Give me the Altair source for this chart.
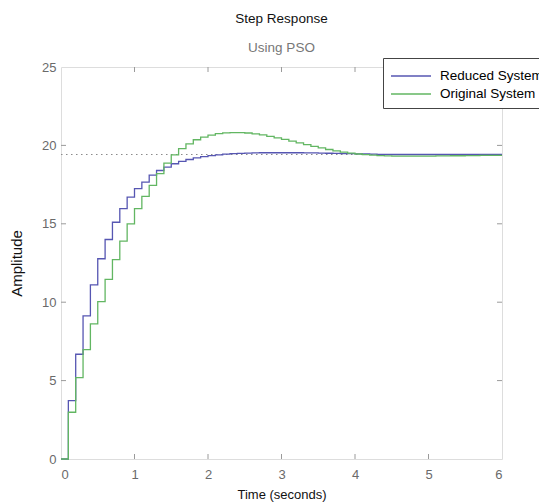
import altair as alt
import pandas as pd

# ---------------- data ----------------
time = [0.0, 0.1, 0.2, 0.3, 0.4, 0.5, 0.6, 0.7, 0.8, 0.9,
        1.0, 1.1, 1.2, 1.3, 1.4, 1.5, 1.6, 1.7, 1.8, 1.9,
        2.0, 2.1, 2.2, 2.3, 2.4, 2.5, 2.6, 2.7, 2.8, 2.9,
        3.0, 3.1, 3.2, 3.3, 3.4, 3.5, 3.6, 3.7, 3.8, 3.9,
        4.0, 4.1, 4.2, 4.3, 4.4, 4.5, 4.6, 4.7, 4.8, 4.9,
        5.0, 5.1, 5.2, 5.3, 5.4, 5.5, 5.6, 5.7, 5.8, 5.9, 6.0]

reduced = [0.0, 3.72, 6.68, 9.13, 11.10, 12.77, 14.00, 15.10, 15.97, 16.70,
           17.24, 17.66, 18.10, 18.40, 18.62, 18.83, 18.98, 19.10, 19.20, 19.28,
           19.35, 19.40, 19.44, 19.47, 19.49, 19.51, 19.52, 19.53, 19.53, 19.53,
           19.53, 19.53, 19.53, 19.52, 19.52, 19.51, 19.50, 19.49, 19.48, 19.47,
           19.46, 19.45, 19.44, 19.43, 19.43, 19.42, 19.42, 19.42, 19.42, 19.42,
           19.42, 19.42, 19.42, 19.42, 19.42, 19.42, 19.42, 19.42, 19.42, 19.42, 19.42]

original = [0.0, 2.98, 5.19, 6.98, 8.62, 10.04, 11.45, 12.72, 13.90, 15.00,
            15.97, 16.75, 17.45, 18.20, 18.87, 19.40, 19.79, 20.10, 20.36, 20.53,
            20.66, 20.75, 20.80, 20.82, 20.82, 20.79, 20.74, 20.67, 20.58, 20.48,
            20.38, 20.27, 20.16, 20.05, 19.94, 19.84, 19.74, 19.65, 19.57, 19.51,
            19.45, 19.41, 19.38, 19.35, 19.33, 19.32, 19.31, 19.31, 19.31, 19.32,
            19.32, 19.33, 19.33, 19.34, 19.34, 19.35, 19.35, 19.36, 19.36, 19.37, 19.37]

series_names = ["Reduced System", "Original System"]
series_colors = ["#5656b2", "#62b662"]
steady_state = [19.42]
x_ticks = [0, 1, 2, 3, 4, 5, 6]
y_ticks = [0, 5, 10, 15, 20, 25]
x_inner_ticks = [1, 2, 3, 4, 5]
y_inner_ticks = [5, 10, 15, 20]

# ---------------- layout ----------------
W, H = 441, 392
FRAME = "#9a9a9a"
FONT = "Liberation Sans"
TL = 5  # inward tick length

df = pd.DataFrame({
    "time": time * 2,
    "amp": reduced + original,
    "series": [series_names[0]] * len(time) + [series_names[1]] * len(time),
})

xscale = alt.Scale(domain=[0, 6], nice=False, zero=False)
yscale = alt.Scale(domain=[0, 25], nice=False)

xaxis = alt.Axis(values=x_ticks, title="Time (seconds)", grid=False, domain=False,
                 ticks=False, labelPadding=9, labelFontSize=13, labelColor="#6a6a6a",
                 labelFont=FONT, titleFont=FONT, titleFontSize=13, titleFontWeight="normal",
                 titleColor="#111", titlePadding=7, format="d")
yaxis = alt.Axis(values=y_ticks, title="Amplitude", grid=False, domain=False,
                 ticks=False, labelPadding=5, labelFontSize=13, labelColor="#6a6a6a",
                 labelFont=FONT, titleFont=FONT, titleFontSize=15, titleFontWeight="normal",
                 titleColor="#111", titlePadding=17, format="d")

lines = alt.Chart(df).mark_line(interpolate="step-after", strokeWidth=1.3).encode(
    x=alt.X("time:Q", scale=xscale, axis=xaxis),
    y=alt.Y("amp:Q", scale=yscale, axis=yaxis),
    color=alt.Color(
        "series:N",
        scale=alt.Scale(domain=series_names, range=series_colors),
        sort=series_names,
        legend=alt.Legend(
            title=None, orient="none", legendX=322, legendY=-9,
            padding=7, strokeColor="#444", fillColor="white",
            symbolType="M-2,0L2,0", symbolSize=400, symbolStrokeWidth=1.3,
            symbolOffset=10, labelOffset=18, labelFontSize=13.5, labelFont=FONT,
            labelColor="#000", labelLimit=300, rowPadding=0,
        ),
    ),
    order=alt.Order("series:N", sort="descending"),
)

ref = alt.Chart(pd.DataFrame({"v": steady_state})).mark_rule(
    color="#8a8a8a", strokeDash=[1.5, 3.5], strokeWidth=1.2
).encode(
    y=alt.Y("v:Q", scale=yscale),
    x=alt.value(0), x2=alt.value(W),
)

xt = pd.DataFrame({"t": x_inner_ticks})
yt = pd.DataFrame({"t": y_inner_ticks})
tick_style = dict(color=FRAME, strokeWidth=1)
xb = alt.Chart(xt).mark_rule(**tick_style).encode(
    x=alt.X("t:Q", scale=xscale), y=alt.value(H), y2=alt.value(H - TL))
xtop = alt.Chart(xt).mark_rule(**tick_style).encode(
    x=alt.X("t:Q", scale=xscale), y=alt.value(0), y2=alt.value(TL))
yl = alt.Chart(yt).mark_rule(**tick_style).encode(
    y=alt.Y("t:Q", scale=yscale), x=alt.value(0), x2=alt.value(TL))
yr = alt.Chart(yt).mark_rule(**tick_style).encode(
    y=alt.Y("t:Q", scale=yscale), x=alt.value(W), x2=alt.value(W - TL))

chart = alt.layer(ref, xb, xtop, yl, yr, lines).properties(
    width=W, height=H,
    title=alt.TitleParams(
        "Step Response", subtitle="Using PSO", anchor="middle",
        font=FONT, fontSize=13.5, fontWeight="normal", color="#111",
        subtitleFont=FONT, subtitleFontSize=13.5, subtitleColor="#777",
        offset=3, subtitlePadding=16,
    ),
    autosize=alt.AutoSizeParams(type="none"),
    padding={"left": 61, "top": 67, "right": 37, "bottom": 44},
).configure_view(stroke=FRAME, strokeWidth=1).configure(background="white")

chart.save("out.html", embed_options={"renderer": "svg", "actions": False})
